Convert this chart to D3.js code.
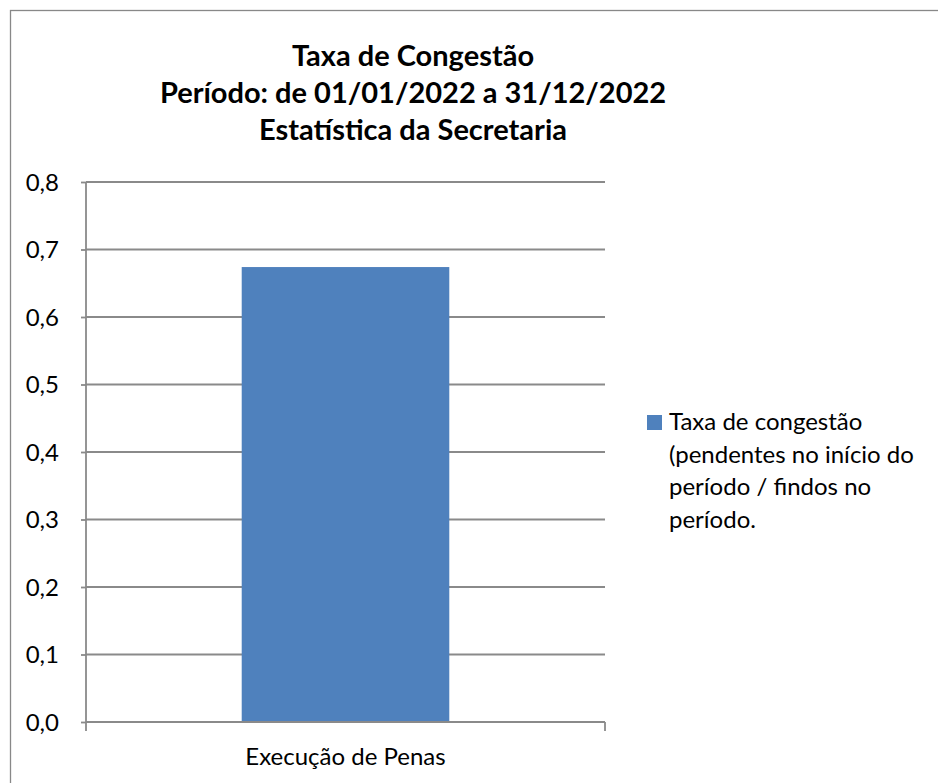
<!DOCTYPE html>
<html>
<head>
<meta charset="utf-8">
<script src="https://cdn.jsdelivr.net/npm/d3@7"></script>
<style>
  html, body { margin: 0; padding: 0; background: #fff; }
  svg { display: block; }
  text { font-family: Lato, "Open Sans", sans-serif; fill: #000; }
</style>
</head>
<body>
<svg id="chart" width="938" height="783"></svg>
<script>
const titleLines = ["Taxa de Congestão", "Período: de 01/01/2022 a 31/12/2022", "Estatística da Secretaria"];
const categories = ["Execução de Penas"];
const seriesName = "Taxa de congestão (pendentes no início do período / findos no período.";
const legendLines = ["Taxa de congestão", "(pendentes no início do", "período / findos no", "período."];
const values = [0.674];
const yTicks = [0, 0.1, 0.2, 0.3, 0.4, 0.5, 0.6, 0.7, 0.8];
const barColor = "#4f81bd";

const svg = d3.select("#chart");

// outer frame (only left/top visible in the picture)
svg.append("rect").attr("x", 10.5).attr("y", 10.5).attr("width", 960).attr("height", 800)
  .attr("fill", "#fff").attr("stroke", "#888").attr("stroke-width", 1.3);

const plot = { left: 86, right: 605, top: 182, bottom: 722 };

const y = d3.scaleLinear().domain([0, 0.8]).range([plot.bottom, plot.top]);
const x = d3.scaleBand().domain(categories).range([plot.left, plot.right]).padding(0.4286);

// gridlines
svg.append("g").selectAll("line").data(yTicks.filter(d => d > 0)).join("line")
  .attr("x1", plot.left).attr("x2", plot.right)
  .attr("y1", d => y(d)).attr("y2", d => y(d))
  .attr("stroke", "#8a8a8a").attr("stroke-width", 1.8);

// bars
svg.append("g").selectAll("rect").data(values).join("rect")
  .attr("x", (d, i) => x(categories[i]))
  .attr("width", x.bandwidth())
  .attr("y", d => y(d))
  .attr("height", d => y(0) - y(d))
  .attr("fill", barColor);

// y axis
const yAxis = d3.axisLeft(y).tickValues(yTicks).tickSize(5).tickPadding(22)
  .tickFormat(d => d3.format(".1f")(d).replace(".", ","));
const gy = svg.append("g").attr("transform", `translate(${plot.left},0)`).call(yAxis);
gy.select(".domain").attr("stroke", "#8a8a8a").attr("stroke-width", 1.8).attr("d", `M0,${plot.top}V${plot.bottom}`);
gy.selectAll(".tick line").attr("stroke", "#8a8a8a").attr("stroke-width", 1.8);
gy.selectAll(".tick text").attr("font-size", 24).attr("font-family", "Lato").attr("fill", "#000").attr("dy", "0.35em");

// x axis
const xAxis = d3.axisBottom(x).tickSize(0).tickPadding(0);
const gx = svg.append("g").attr("transform", `translate(0,${plot.bottom})`).call(xAxis);
gx.select(".domain").attr("stroke", "#8a8a8a").attr("stroke-width", 1.8).attr("d", `M${plot.left},0H${plot.right}`);
gx.selectAll(".tick text").attr("font-size", 24).attr("font-family", "Lato").attr("fill", "#000")
  .attr("dy", null).attr("y", 43);
// category boundary ticks
gx.append("g").selectAll("line").data([plot.left, plot.right]).join("line")
  .attr("x1", d => d).attr("x2", d => d).attr("y1", 0).attr("y2", 9)
  .attr("stroke", "#8a8a8a").attr("stroke-width", 1.8);

// title
const title = svg.append("text").attr("text-anchor", "middle").attr("font-weight", "bold").attr("font-size", 29);
title.selectAll("tspan").data(titleLines).join("tspan")
  .attr("x", 413).attr("y", (d, i) => 66 + i * 37).text(d => d);

// legend
const lg = svg.append("g");
lg.append("rect").attr("x", 647).attr("y", 415).attr("width", 15).attr("height", 15).attr("fill", barColor);
const lt = lg.append("text").attr("font-size", 24);
lt.selectAll("tspan").data(legendLines).join("tspan")
  .attr("x", 669).attr("y", (d, i) => 430 + i * 32.5).text(d => d);
</script>
</body>
</html>
